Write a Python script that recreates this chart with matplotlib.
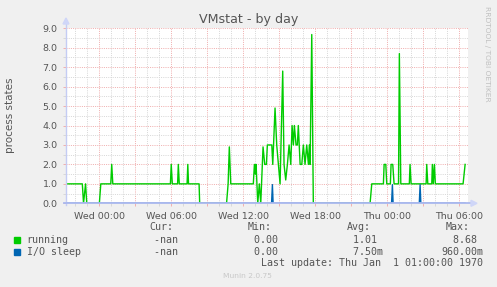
import matplotlib
matplotlib.use("Agg")
import matplotlib.pyplot as plt
from matplotlib.patches import Rectangle, Polygon
from matplotlib.lines import Line2D

# ---- data (hours since Wed 00:00) ----
running_t = [-2.78, -1.42, -1.32, -1.15, -1.05, 0.00, 0.12, 0.95, 1.03, 1.12,
             5.92, 5.99, 6.08, 6.52, 6.58, 6.66, 7.31, 7.37, 7.43, 8.31, 8.36,
             10.60, 10.73, 10.83, 10.95, 12.83, 12.92, 13.00, 13.06, 13.20, 13.33,
             13.45, 13.64, 13.78, 13.92, 14.00, 14.37, 14.45, 14.64, 14.78, 14.92,
             15.06, 15.28, 15.39, 15.53, 15.67, 15.81, 15.95, 16.06, 16.17, 16.25,
             16.39, 16.50, 16.58, 16.73, 16.87, 17.00, 17.14, 17.28, 17.42, 17.50,
             17.56, 17.70, 17.83, 22.56, 22.70, 23.67, 23.73, 23.87, 23.95, 24.25,
             24.31, 24.45, 24.56, 24.93, 25.00, 25.12, 25.83, 25.89, 25.98, 27.23,
             27.28, 27.37, 27.70, 27.75, 27.83, 27.92, 28.00, 30.31, 30.48]
running_v = [1, 1, 0, 1, 0, 0, 1, 1, 2, 1,
             1, 2, 1, 1, 2, 1, 1, 2, 1, 1, 0,
             0, 1, 2.9, 1, 1, 2, 1.5, 2, 0, 1,
             0, 2.9, 2, 2, 3, 3, 2, 4.9, 3, 2,
             1, 6.8, 2, 1.2, 2, 3, 2, 4, 3, 4,
             3, 3, 4, 2, 2, 3, 2, 3, 2, 3,
             2, 8.68, 0, 0, 1, 1, 2, 2, 1, 1,
             2, 2, 1, 1, 7.7, 1, 1, 2, 1, 1,
             2, 1, 1, 2, 1, 2, 1, 1, 2]

iosleep_t = [-2.78, 14.35, 14.42, 14.48, 24.35, 24.42, 24.48, 26.66, 26.73, 26.79, 30.48]
iosleep_v = [0, 0, 0.96, 0, 0, 0.96, 0, 0, 0.96, 0, 0]

x_major = [0, 3, 6, 9, 12, 15, 18, 21, 24, 27, 30]
x_labels = ['Wed 00:00', '', 'Wed 06:00', '', 'Wed 12:00', '', 'Wed 18:00', '',
            'Thu 00:00', '', 'Thu 06:00']
x_minor = list(range(-2, 31))
y_major = [0, 1, 2, 3, 4, 5, 6, 7, 8, 9]
y_labels = ['0.0', '1.0', '2.0', '3.0', '4.0', '5.0', '6.0', '7.0', '8.0', '9.0']
y_minor = [0.5, 1.5, 2.5, 3.5, 4.5, 5.5, 6.5, 7.5, 8.5]

series_names = ['running', 'I/O sleep']
series_colors = ['#00cc00', '#0066b3']
cur_vals = ['-nan', '-nan']
min_vals = ['0.00', '0.00']
avg_vals = ['1.01', '7.50m']
max_vals = ['8.68', '960.00m']

# ---- figure ----
W, H = 497, 287
fig = plt.figure(figsize=(W / 100, H / 100), dpi=100, facecolor='#f0f0f0')
L, R, T, B = 66, 468, 28.3, 203.3
ax = fig.add_axes([L / W, 1 - B / H, (R - L) / W, (B - T) / H])
ax.set_facecolor('white')
for s in ax.spines.values():
    s.set_visible(False)

ax.set_xlim(-2.78, 30.72)
ax.set_ylim(0, 9)
ax.set_xticks(x_major)
ax.set_xticklabels(x_labels)
ax.set_xticks(x_minor, minor=True)
ax.set_yticks(y_major)
ax.set_yticklabels(y_labels)
ax.set_yticks(y_minor, minor=True)

txtc = '#555555'
ax.tick_params(which='major', length=2, width=0.72, color='#f0b0b0',
               labelsize=6.8, labelcolor=txtc, pad=4)
ax.tick_params(which='minor', length=2, width=0.72, color='#d8d8d8')

ax.grid(which='minor', color='#d8d8d8', lw=0.72, linestyle=(0, (1, 1.2)))
ax.grid(which='major', color='#f0b0b0', lw=0.72, linestyle=(0, (1, 1.2)))
ax.set_axisbelow(True)

for t, v, c in [(running_t, running_v, series_colors[0]),
                (iosleep_t, iosleep_v, series_colors[1])]:
    ax.plot(t, v, color=c, lw=1.0, zorder=3)

# axes lines with arrows
axc = '#aab8ee'
def fx(x): return x / W
def fy(y): return 1 - y / H
fig.add_artist(Line2D([fx(L), fx(L)], [fy(B + 2), fy(22)], color='#c4ccf4', lw=1.0, zorder=10))
fig.add_artist(Line2D([fx(L - 2), fx(472)], [fy(B), fy(B)], color=axc, lw=1.3, zorder=10))
fig.add_artist(Polygon([[fx(L - 3), fy(24)], [fx(L + 3), fy(24)], [fx(L), fy(18)]],
                       closed=True, color='#cfd6f8', zorder=10))
fig.add_artist(Polygon([[fx(471), fy(B - 3)], [fx(471), fy(B + 3)], [fx(477), fy(B)]],
                       closed=True, color='#cfd6f8', zorder=10))

# title, labels, watermark
fig.text(fx(248.5), fy(19), 'VMstat - by day', ha='center', va='center',
         fontsize=9.1, color=txtc)
fig.text(fx(10), fy(115), 'process states', ha='center', va='center',
         rotation=90, fontsize=7.5, color=txtc)
fig.text(fx(487.5), fy(53.5), 'RRDTOOL / TOBI OETIKER', ha='center', va='center',
         rotation=270, fontsize=5.4, color='#c0c0c0')

# legend
mono = 'DejaVu Sans Mono'
fs = 7.2
for lab, x in zip(['Cur:', 'Min:', 'Avg:', 'Max:'], [149.3, 248, 346.7, 446]):
    fig.text(fx(x), fy(227.5), lab, ha='left', va='center', family=mono, fontsize=fs, color=txtc)

col_right = [183.7, 283.7, 383.3, 483.3]
rows_y = [240, 252]
for i in range(2):
    y = rows_y[i]
    fig.add_artist(Rectangle((fx(14), fy(y + 3)), 6 / W, 6 / H, transform=fig.transFigure,
                             color=series_colors[i], zorder=10))
    fig.text(fx(26.7), fy(y), series_names[i], ha='left', va='center', family=mono,
             fontsize=fs, color=txtc)
    for vals, xr in zip([cur_vals, min_vals, avg_vals, max_vals], col_right):
        s = vals[i]
        s7 = (s if s.endswith('m') else s + ' ').rjust(7)
        fig.text(fx(xr), fy(y), s7, ha='right', va='center', family=mono,
                 fontsize=fs, color=txtc)

fig.text(fx(483.3), fy(263.5), 'Last update: Thu Jan  1 01:00:00 1970', ha='right',
         va='center', family=mono, fontsize=fs, color=txtc)
fig.text(fx(247.7), fy(276), 'Munin 2.0.75', ha='center', va='center',
         fontsize=5.4, color='#c8c8c8')

fig.savefig('out.png', dpi=100, facecolor='#f0f0f0')
